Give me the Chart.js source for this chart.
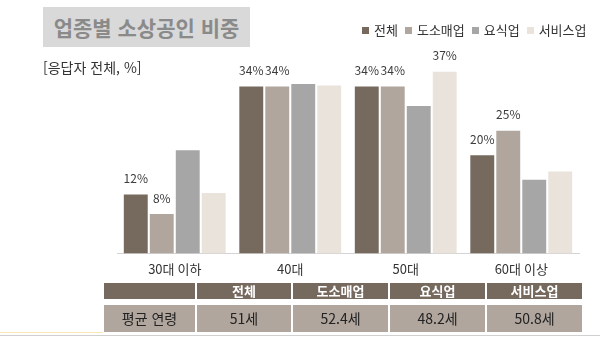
<!DOCTYPE html>
<html lang="ko">
<head>
<meta charset="utf-8">
<title>업종별 소상공인 비중</title>
<script src="https://cdn.jsdelivr.net/npm/chart.js@4/dist/chart.umd.min.js"></script>
<style>
  body {
    margin: 0;
    width: 600px;
    height: 338px;
    position: relative;
    overflow: hidden;
    background: #fff;
    font-family: 'Noto Sans CJK KR', 'Noto Sans', sans-serif;
    color: #333;
  }
  #chart { position: absolute; left: 0; top: 0; }

  .title-box {
    position: absolute;
    left: 43px; top: 7px;
    width: 207px; height: 40px;
    background: #d9d9d9;
    color: #8a8a8a;
    font-size: 21px;
    font-weight: bold;
    line-height: 40px;
    text-align: center;
  }
  .unit {
    position: absolute;
    left: 43px; top: 57px;
    font-size: 14px;
    line-height: 20px;
    color: #333;
  }

  /* legend */
  .legend {
    position: absolute;
    left: 362px; top: 21px;
    display: flex;
    font-size: 13px;
    line-height: 18px;
    color: #333;
  }
  .legend span { display: flex; align-items: center; margin-right: 7px; }
  .legend i { width: 7px; height: 7px; margin-right: 5px; display: inline-block; }

  /* 평균 연령 table */
  .age-table {
    position: absolute;
    left: 102px; top: 277px;
    border-collapse: separate;
    border-spacing: 2.5px 6px;
    table-layout: fixed;
  }
  .age-table td, .age-table th { padding: 0; text-align: center; }
  .age-table th {
    height: 16px;
    background: #766a5f;
    color: #fff;
    font-size: 13px;
    font-weight: bold;
    line-height: 16px;
  }
  .age-table td {
    height: 27px;
    background: #b0a69e;
    color: #222;
    font-size: 14px;
    line-height: 27px;
  }
  .line-warm { position: absolute; left: 0; top: 332px; width: 103px; height: 1px; background: #f6e6b8; }
  .line-grey { position: absolute; left: 0; top: 335px; width: 600px; height: 1px; background: #d0d0d0; }
</style>
</head>
<body>
<canvas id="chart" width="600" height="338"></canvas>

<div class="title-box">업종별 소상공인 비중</div>
<div class="unit">[응답자 전체, %]</div>
<div class="legend" id="legend"></div>

<table class="age-table" id="ageTable">
  <colgroup>
    <col style="width:91px"><col style="width:94px"><col style="width:95px"><col style="width:95px"><col style="width:95px">
  </colgroup>
  <thead><tr id="ageHead"><th></th></tr></thead>
  <tbody><tr id="ageRow"><td>평균 연령</td></tr></tbody>
</table>

<div class="line-warm"></div>
<div class="line-grey"></div>

<script>
'use strict';

/* ── DATA ── */
const AGE_GROUPS = ['30대 이하', '40대', '50대', '60대 이상'];
const SECTORS    = ['전체', '도소매업', '요식업', '서비스업'];

// 연령대별 비중 (%)
const SHARE_ALL     = [12, 34, 34, 20];
const SHARE_RETAIL  = [8, 34, 34, 25];
const SHARE_FOOD    = [21, 34.5, 30, 15];
const SHARE_SERVICE = [12.3, 34.2, 37, 16.7];

// 값 표시 여부
const SHOW_ALL     = [true, true, true, true];
const SHOW_RETAIL  = [true, true, true, true];
const SHOW_FOOD    = [false, false, false, false];
const SHOW_SERVICE = [false, false, true, false];

// 평균 연령 (세)
const AVG_AGE = [51, 52.4, 48.2, 50.8];

const COLORS = ['#766a5f', '#b1a69e', '#a6a6a6', '#e9e3dc'];

const SERIES = [SHARE_ALL, SHARE_RETAIL, SHARE_FOOD, SHARE_SERVICE];
const SHOW   = [SHOW_ALL, SHOW_RETAIL, SHOW_FOOD, SHOW_SERVICE];

const FONT = "'Noto Sans CJK KR', 'Noto Sans', sans-serif";

/* ── value labels above bars ── */
const barValueLabels = {
  id: 'barValueLabels',
  afterDatasetsDraw(chart) {
    const { ctx } = chart;
    ctx.save();
    ctx.font = `12px ${FONT}`;
    ctx.fillStyle = '#3c3c3c';
    ctx.textAlign = 'center';
    ctx.textBaseline = 'middle';
    chart.data.datasets.forEach((ds, i) => {
      chart.getDatasetMeta(i).data.forEach((bar, j) => {
        if (!SHOW[i][j]) return;
        ctx.fillText(ds.data[j] + '%', bar.x, bar.y - 16);
      });
    });
    ctx.restore();
  },
};

/* ── chart ── */
new Chart(document.getElementById('chart'), {
  type: 'bar',
  data: {
    labels: AGE_GROUPS,
    datasets: SECTORS.map((name, i) => ({
      label: name,
      data: SERIES[i],
      backgroundColor: COLORS[i],
      borderWidth: 0,
      barPercentage: 0.92,
      categoryPercentage: 0.9,
    })),
  },
  options: {
    responsive: false,
    animation: false,
    layout: { padding: { left: 117, right: 21, top: 57, bottom: 53 } },
    plugins: {
      legend: { display: false },
      tooltip: { enabled: false },
    },
    scales: {
      x: {
        grid: { display: false, drawTicks: false },
        border: { display: true, color: '#d4d4d4', width: 1 },
        ticks: { color: '#333', padding: 8, font: { family: FONT, size: 13 } },
      },
      y: {
        display: false,
        min: 0,
        max: 40,
      },
    },
  },
  plugins: [barValueLabels],
});

/* ── legend ── */
const legend = document.getElementById('legend');
SECTORS.forEach((name, i) => {
  const item = document.createElement('span');
  item.innerHTML = `<i style="background:${COLORS[i]}"></i>${name}`;
  legend.appendChild(item);
});

/* ── 평균 연령 table ── */
const head = document.getElementById('ageHead');
const row  = document.getElementById('ageRow');
SECTORS.forEach((name, i) => {
  const th = document.createElement('th');
  th.textContent = name;
  head.appendChild(th);
  const td = document.createElement('td');
  td.textContent = AVG_AGE[i] + '세';
  row.appendChild(td);
});
</script>
</body>
</html>
